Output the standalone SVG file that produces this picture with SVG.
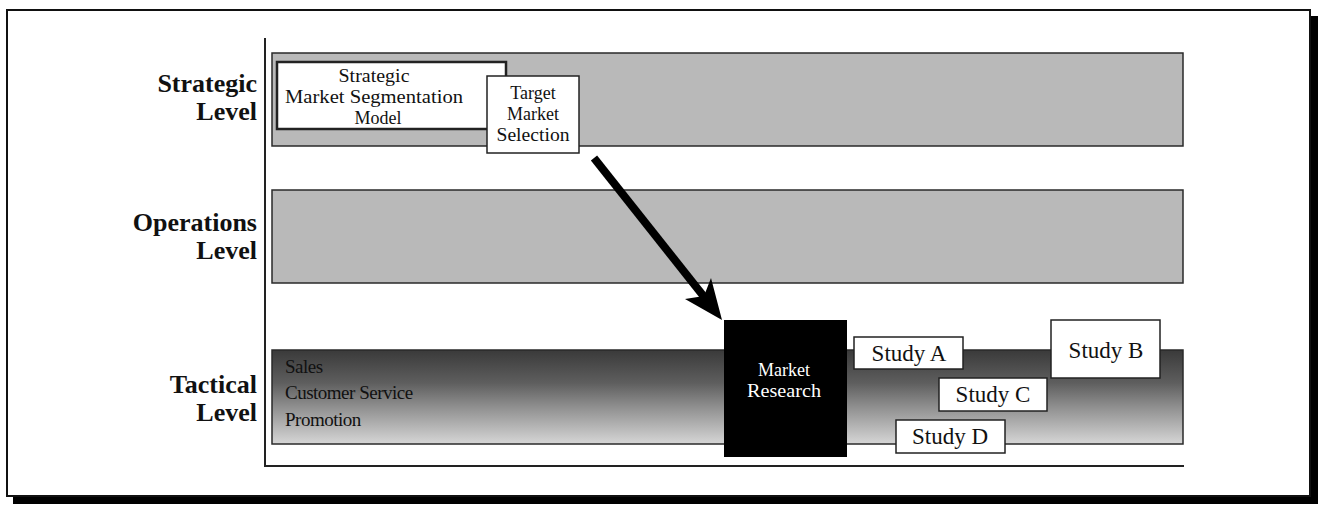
<svg xmlns="http://www.w3.org/2000/svg" width="1318" height="506" viewBox="0 0 1318 506">
<defs>
<style>
.lvl{font-family:"Liberation Serif","Times New Roman",serif;font-size:26px;font-weight:bold;fill:#111;text-anchor:end}
.box{fill:#fff;stroke:#222;stroke-width:1.5}
.bt{font-family:"Liberation Serif","Times New Roman",serif;font-size:18px;fill:#111;text-anchor:middle}
.st{font-family:"Liberation Serif","Times New Roman",serif;font-size:23px;fill:#111;text-anchor:middle}
.band{fill:#b9b9b9;stroke:#2a2a2a;stroke-width:1.5}
.sub{font-family:"Liberation Serif","Times New Roman",serif;font-size:19px;fill:#111;letter-spacing:-0.5px}
.axis{stroke:#222;stroke-width:2;fill:none}
</style>
<linearGradient id="tac" x1="0" y1="0" x2="0" y2="1">
<stop offset="0" stop-color="#3a3a3a"/>
<stop offset="0.35" stop-color="#5e5e5e"/>
<stop offset="0.6" stop-color="#8e8e8e"/>
<stop offset="1" stop-color="#d6d6d6"/>
</linearGradient>
</defs>
<g id="frame">
<rect x="13" y="16" width="1305" height="488" fill="#000"/>
<rect x="7" y="10" width="1303" height="486" fill="#fff" stroke="#111" stroke-width="2"/>
</g>
<g id="axes">
<line class="axis" x1="265" y1="38" x2="265" y2="467"/>
<line class="axis" x1="264" y1="466" x2="1184" y2="466"/>
</g>
<g id="band-strategic">
<rect class="band" x="272" y="53" width="911" height="93"/>
<text class="lvl" x="257" y="92">Strategic</text>
<text class="lvl" x="257" y="120">Level</text>
</g>
<g id="band-operations">
<rect class="band" x="272" y="190" width="911" height="93"/>
<text class="lvl" x="257" y="231">Operations</text>
<text class="lvl" x="257" y="259">Level</text>
</g>
<g id="band-tactical">
<rect x="272" y="350" width="911" height="94" fill="url(#tac)" stroke="#2a2a2a" stroke-width="1.5"/>
<text class="lvl" x="257" y="393">Tactical</text>
<text class="lvl" x="257" y="421">Level</text>
<text class="sub" x="285" y="373">Sales</text>
<text class="sub" x="285" y="399">Customer Service</text>
<text class="sub" x="285" y="426">Promotion</text>
</g>
<g id="node-sms">
<rect x="277" y="62" width="229" height="67" fill="#fff" stroke="#222" stroke-width="2.5"/>
<text class="bt" x="374" y="82" textLength="71" lengthAdjust="spacingAndGlyphs">Strategic</text>
<text class="bt" x="374" y="103" textLength="178" lengthAdjust="spacingAndGlyphs">Market Segmentation</text>
<text class="bt" x="378" y="124">Model</text>
</g>
<g id="node-target">
<rect class="box" x="487" y="76" width="92" height="77"/>
<text class="bt" x="533" y="99">Target</text>
<text class="bt" x="533" y="120">Market</text>
<text class="bt" x="533" y="141" textLength="73" lengthAdjust="spacingAndGlyphs">Selection</text>
</g>
<g id="connectors">
<line x1="594" y1="158" x2="705" y2="298" stroke="#000" stroke-width="8"/>
<polygon points="722,320 685,299 704,296 711,278" fill="#000"/>
</g>
<g id="node-market-research">
<rect x="724" y="320" width="123" height="137" fill="#000"/>
<text class="bt" x="784" y="376" style="fill:#fff">Market</text>
<text class="bt" x="784" y="397" style="fill:#fff" textLength="74" lengthAdjust="spacingAndGlyphs">Research</text>
</g>
<g id="node-study-a">
<rect class="box" x="854" y="337" width="109" height="32"/>
<text class="st" x="909" y="361">Study A</text>
</g>
<g id="node-study-b">
<rect class="box" x="1051" y="320" width="109" height="58"/>
<text class="st" x="1106" y="358">Study B</text>
</g>
<g id="node-study-c">
<rect class="box" x="939" y="378" width="108" height="33"/>
<text class="st" x="993" y="402">Study C</text>
</g>
<g id="node-study-d">
<rect class="box" x="896" y="420" width="109" height="33"/>
<text class="st" x="950" y="444">Study D</text>
</g>
</svg>
